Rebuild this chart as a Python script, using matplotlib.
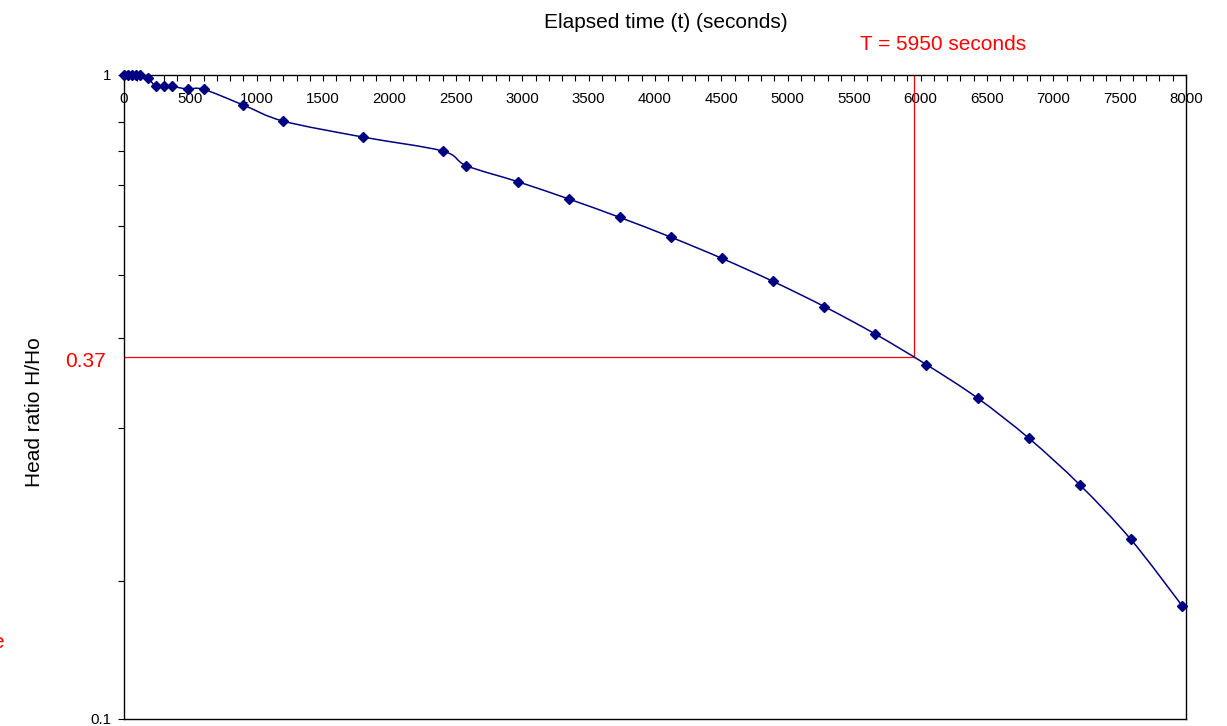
import matplotlib
matplotlib.use("Agg")
import numpy as np
import matplotlib.pyplot as plt
from matplotlib.ticker import FixedLocator, NullFormatter
from matplotlib.path import Path
from matplotlib.patches import PathPatch

plt.rcParams['font.family'] = ['Liberation Sans', 'DejaVu Sans']

# Data
time_s = [0, 30, 60, 90, 120, 180, 240, 300, 360, 480, 600, 900, 1200, 1800,
          2400, 2580, 2965, 3350, 3735, 4120, 4505, 4890, 5275, 5660, 6045,
          6430, 6815, 7200, 7585, 7970]
head_ratio = [1.0, 1.0, 1.0, 1.0, 1.0, 0.989, 0.960, 0.960, 0.960, 0.951, 0.950,
              0.898, 0.848, 0.801, 0.762, 0.723, 0.683, 0.642, 0.601, 0.560,
              0.519, 0.478, 0.437, 0.396, 0.355, 0.315, 0.273, 0.231, 0.190, 0.150]

x_ticks = list(range(0, 8001, 500))
y_ticks = [0.1, 1]
y_tick_labels = ['0.1', '1']
y_minor = [0.164, 0.283, 0.390, 0.489, 0.583, 0.675, 0.763, 0.846]

T_value = 5950
h_ratio_line = 0.365

W, H = 1227, 726
fig = plt.figure(figsize=(W / 100, H / 100), dpi=100)
ax = fig.add_axes([124 / W, 1 - 719 / H, 1062 / W, 644 / H])

ax.set_yscale('log')
ax.set_xlim(0, 8000)
ax.set_ylim(0.1, 1)

# red guide lines
ax.plot([0, T_value], [h_ratio_line, h_ratio_line], color='#ff0000', lw=0.9, zorder=2)
ax.plot([T_value, T_value], [h_ratio_line, 1], color='#ff0000', lw=0.9, zorder=2,
        clip_on=False)

# smoothed connecting line (Catmull-Rom style Bezier in x / log10(y) space)
xs = np.array(time_s, dtype=float)
ly = np.log10(np.array(head_ratio, dtype=float))
n = len(xs)
verts = [(xs[0], 10 ** ly[0])]
codes = [Path.MOVETO]
for i in range(n - 1):
    i0 = max(i - 1, 0)
    i3 = min(i + 2, n - 1)
    c1x = xs[i] + (xs[i + 1] - xs[i0]) / 6.0
    c1y = ly[i] + (ly[i + 1] - ly[i0]) / 6.0
    c2x = xs[i + 1] - (xs[i3] - xs[i]) / 6.0
    c2y = ly[i + 1] - (ly[i3] - ly[i]) / 6.0
    verts += [(c1x, 10 ** c1y), (c2x, 10 ** c2y), (xs[i + 1], 10 ** ly[i + 1])]
    codes += [Path.CURVE4, Path.CURVE4, Path.CURVE4]
patch = PathPatch(Path(verts, codes), facecolor='none', edgecolor='#000080',
                  lw=1.1, zorder=3, clip_on=False)
ax.add_patch(patch)

ax.plot(time_s, head_ratio, linestyle='none', marker='D', markersize=5,
        markerfacecolor='#000080', markeredgecolor='#000080', zorder=4, clip_on=False)

# x axis on top with labels inside
ax.xaxis.set_ticks_position('top')
ax.set_xticks(x_ticks)
ax.set_xticklabels([str(v) for v in x_ticks])
ax.xaxis.set_minor_locator(FixedLocator(list(range(0, 8001, 100))))
ax.tick_params(axis='x', which='both', direction='in', length=4, width=0.8,
               top=True, bottom=False, labeltop=True, labelbottom=False,
               pad=-22, labelsize=10.8)

ax.yaxis.set_major_locator(FixedLocator(y_ticks))
ax.set_yticklabels(y_tick_labels)
ax.yaxis.set_minor_locator(FixedLocator(y_minor))
ax.yaxis.set_minor_formatter(NullFormatter())
ax.tick_params(axis='y', which='both', direction='out', length=4, width=0.8,
               left=True, right=False, labelsize=10.8, pad=5)

for s in ax.spines.values():
    s.set_linewidth(1.0)
    s.set_color('black')

fig.text(666 / W, 1 - 22 / H, 'Elapsed time (t) (seconds)', fontsize=15,
         ha='center', va='center')
fig.text(943 / W, 1 - 45 / H, 'T = 5950 seconds', fontsize=15, color='#ff0000',
         ha='center', va='center')
fig.text(86 / W, 1 - 361 / H, '0.37', fontsize=15, color='#ff0000',
         ha='center', va='center')
fig.text(35 / W, 1 - 412 / H, 'Head ratio H/Ho', fontsize=15, rotation=90,
         ha='center', va='center')
fig.text(-8 / W, 1 - 642 / H, 'e', fontsize=15, color='#ff0000',
         ha='left', va='center')

fig.savefig('out.png', dpi=100)
